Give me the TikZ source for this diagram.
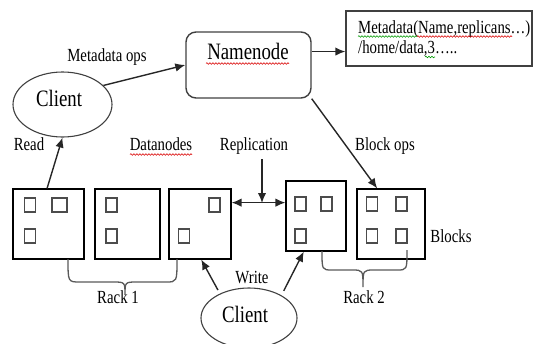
\documentclass[tikz,border=0pt]{standalone}
\usepackage{fontspec}
\setmainfont[FakeStretch=0.8]{Liberation Serif}
\usetikzlibrary{arrows.meta,shapes.geometric,calc,decorations.pathmorphing}

\begin{document}
\begin{tikzpicture}[x=1pt,y=-1pt,
  lbl/.style={font=\fontsize{18.5}{20}\selectfont, inner sep=0pt, anchor=base},
  big/.style={font=\fontsize{23.5}{26}\selectfont, inner sep=0pt, anchor=base},
  datanode/.style={draw=black, line width=1.2pt, inner sep=0pt},
  blk/.style={draw=black!70, line width=1.3pt, inner sep=0pt, minimum width=11pt, minimum height=14pt},
  oval/.style={ellipse, draw=black!75, line width=1.1pt, inner sep=0pt},
  tip/.style={Latex[length=10pt,width=8.5pt]},
  arr/.style={draw=black!85, line width=1.4pt, -{Latex[length=10pt,width=8.5pt]}},
  darr/.style={draw=black!85, line width=1.4pt, {Latex[length=10pt,width=8.5pt]}-{Latex[length=10pt,width=8.5pt]}},
  brace/.style={draw=black!65, line width=1.3pt},
  squig/.style={line width=0.6pt, decorate, decoration={snake, amplitude=0.8pt, segment length=3pt}}
]
\useasboundingbox (0,0) rectangle (534,343);

% name server and its metadata table
\node[draw=black!75, line width=1.4pt, rounded corners=10pt, minimum width=125pt, minimum height=66pt] (namenode) at (248.5,65) {};
\node[big] (nntext) at (248,59) {Namenode};
\node[draw=black!75, line width=1.4pt, minimum width=186pt, minimum height=55pt] (meta) at (439,38.5) {};
\node[lbl, anchor=base west] (meta1) at (358,33) {Metadata(Name,replicans…)};
\node[lbl, anchor=base west] (meta2) at (358,53) {/home/data,3…..};

% clients
\node[oval, minimum width=99pt, minimum height=65pt] (client1) at (62.5,104.5) {};
\node[big] (c1text) at (59,106) {Client};
\node[oval, minimum width=96pt, minimum height=60pt] (client2) at (249,318) {};
\node[big] (c2text) at (245,322) {Client};

% datanodes
\node[datanode, minimum width=71pt, minimum height=70pt] (box1) at (48.5,224) {};
\node[datanode, minimum width=65pt, minimum height=70pt] (box2) at (127.5,224) {};
\node[datanode, minimum width=62pt, minimum height=70pt] (box3) at (200,224) {};
\node[datanode, minimum width=60pt, minimum height=70pt] (box4) at (316,216) {};
\node[datanode, minimum width=68pt, minimum height=70pt] (box5) at (391,224) {};

% blocks stored on the datanodes
\node[blk] (b1a) at (30,205) {};
\node[blk, minimum width=15pt] (b1b) at (59.5,205) {};
\node[blk] (b1c) at (30,236) {};
\node[blk] (b2a) at (111.5,205) {};
\node[blk] (b2b) at (111.5,236) {};
\node[blk] (b3a) at (214.5,205) {};
\node[blk] (b3b) at (184,236) {};
\node[blk] (b4a) at (300.5,204) {};
\node[blk] (b4b) at (326.5,204) {};
\node[blk] (b4c) at (300.5,236) {};
\node[blk] (b5a) at (372,204) {};
\node[blk] (b5b) at (401.5,204) {};
\node[blk] (b5c) at (372,236) {};
\node[blk] (b5d) at (401.5,236) {};

% labels
\node[lbl] (mdops) at (107,61) {Metadata ops};
\node[lbl] (read) at (29,150) {Read};
\node[lbl] (dn) at (161,150) {Datanodes};
\node[lbl] (rep) at (254,150) {Replication};
\node[lbl] (blockops) at (385,150) {Block ops};
\node[lbl] (blocks) at (451,242) {Blocks};
\node[lbl] (write) at (252,283) {Write};
\node[lbl] (rack1) at (118,303) {Rack 1};
\node[lbl] (rack2) at (364,303) {Rack 2};

% connectors
\draw[arr] (client1.25) -- (namenode.west);
\coordinate (nmout) at ($(namenode.north east)!0.3!(namenode.south east)$);
\draw[arr] (nmout) -- (nmout -| meta.west);
\draw[arr] (namenode.south east) -- ($(box5.north west)!0.3!(box5.north east)$);
\draw[arr] ($(box1.north west)!0.48!(box1.north east)$) -- (client1.south);
\coordinate (repout) at ($(box3.north east)!0.2!(box3.south east)$);
\coordinate (repjoin) at (262,203);
\draw[darr] (repout) -- (repout -| box4.west);
\draw[arr] (rep.south -| repjoin) ++(0,5) -- (repjoin);
\draw[arr, shorten <=4pt] (client2.140) -- ($(box3.south west)!0.52!(box3.south east)$);
\draw[arr, shorten <=5pt] (client2.35) -- ($(box4.south west)!0.3!(box4.south east)$);

% rack braces
\draw[brace] (68,259) .. controls (68,282) .. (80,282) -- (113,282)
  .. controls (125,282) .. (125,295) .. controls (125,282) .. (137,282)
  -- (166,282) .. controls (177,282) .. (177,259);
\draw[brace] (322,251) .. controls (322,270) .. (332,270) -- (352,270)
  .. controls (363,270) .. (363,287) .. controls (363,270) .. (374,270)
  -- (397,270) .. controls (407,270) .. (407,250);

% spell-check underlines
\draw[squig, red!85!black] (206,63.5) -- (289,63.5);
\draw[squig, red!85!black] (130,154.5) -- (192,154.5);
\draw[squig, green!60!black] (358,36.5) -- (417,36.5);
\draw[squig, red!85!black] (417,36.5) -- (512,36.5);
\draw[squig, green!60!black] (425,57) -- (435,57);
\end{tikzpicture}
\end{document}
